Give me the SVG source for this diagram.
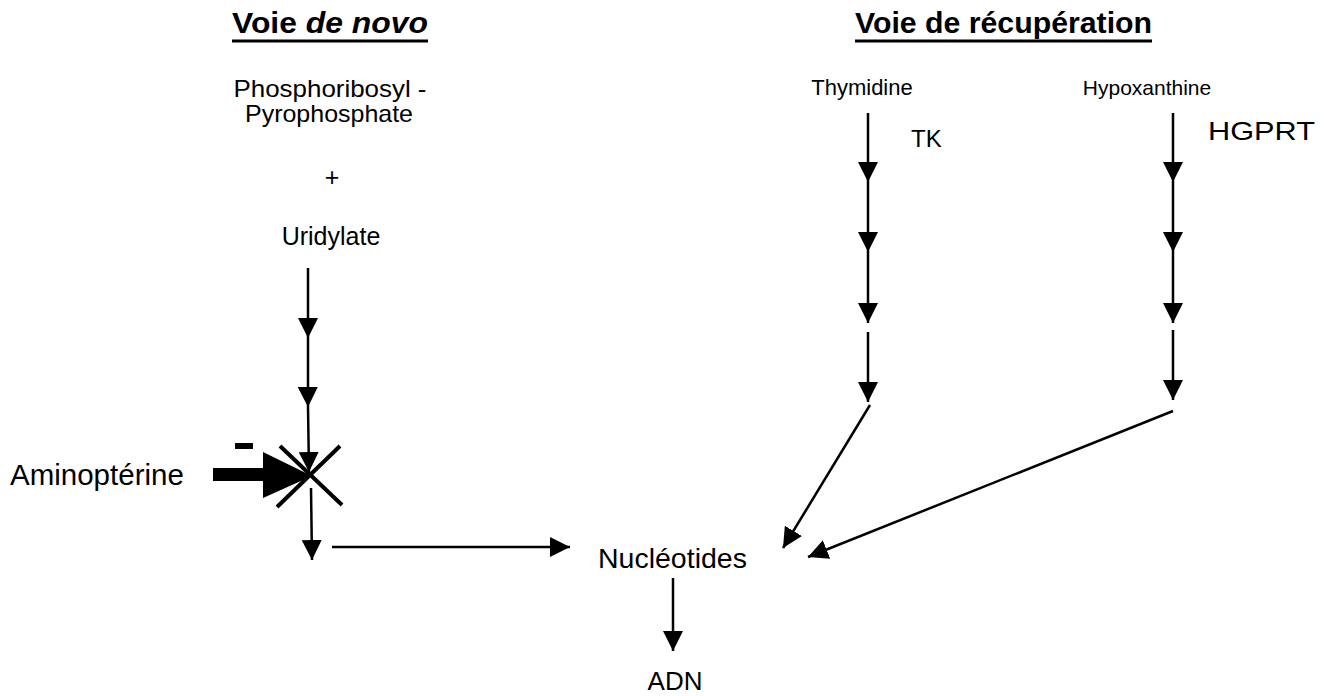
<svg xmlns="http://www.w3.org/2000/svg" width="1328" height="696" viewBox="0 0 1328 696">
<style>
text{font-family:"Liberation Sans",Arial,sans-serif;fill:#000}
.t{font-size:30px;font-weight:bold}
.n{font-size:25px}
.c{stroke:#000;stroke-width:2.5;fill:none}
.ul{stroke:#000;stroke-width:3}
</style>
<defs>
<marker id="ah" viewBox="0 0 20 20" refX="20" refY="10" markerWidth="20" markerHeight="20" markerUnits="userSpaceOnUse" orient="auto">
<path d="M0,0 L20,10 L0,20 z" fill="#000"/>
</marker>
</defs>
<rect width="1328" height="696" fill="#fff"/>
<g id="title-denovo">
<text class="t" x="232" y="33" textLength="196" lengthAdjust="spacingAndGlyphs">Voie <tspan font-style="italic">de novo</tspan></text>
<line class="ul" x1="232" y1="41" x2="428" y2="41"/>
</g>
<g id="title-recup">
<text class="t" x="855" y="33" textLength="297" lengthAdjust="spacingAndGlyphs">Voie de récupération</text>
<line class="ul" x1="855" y1="41" x2="1152" y2="41"/>
</g>
<g id="prpp">
<text x="330" y="97" font-size="24" text-anchor="middle" textLength="193" lengthAdjust="spacingAndGlyphs">Phosphoribosyl -</text>
<text x="329" y="122" font-size="24" text-anchor="middle" textLength="168" lengthAdjust="spacingAndGlyphs">Pyrophosphate</text>
</g>
<g id="plus"><text class="n" x="332" y="186" text-anchor="middle">+</text></g>
<g id="uridylate"><text class="n" x="331" y="245" text-anchor="middle">Uridylate</text></g>
<g id="thymidine"><text x="862" y="95" font-size="22" text-anchor="middle">Thymidine</text></g>
<g id="hypoxanthine"><text x="1147" y="95" font-size="21" text-anchor="middle">Hypoxanthine</text></g>
<g id="tk"><text x="911" y="147" font-size="24">TK</text></g>
<g id="hgprt"><text x="1208" y="140" font-size="25" textLength="107" lengthAdjust="spacingAndGlyphs">HGPRT</text></g>
<g id="aminopterine">
<text x="10" y="485" font-size="29.5">Aminoptérine</text>
<rect x="235" y="443" width="18" height="6"/>
<rect x="213" y="468" width="54" height="13"/>
<polygon points="263,452 312,476 263,498"/>
</g>
<g id="nucleotides"><text x="598" y="568" font-size="28.5">Nucléotides</text></g>
<g id="adn"><text x="675" y="690" font-size="26" text-anchor="middle">ADN</text></g>
<g id="connectors">
<polyline class="c" points="308,268 308,338 308,407 309,472" marker-mid="url(#ah)" marker-end="url(#ah)"/>
<g id="block-x" stroke="#000" stroke-width="4">
<line x1="280" y1="446" x2="342" y2="505"/>
<line x1="340" y1="446" x2="277" y2="507"/>
</g>
<line class="c" x1="311" y1="488" x2="312" y2="560" marker-end="url(#ah)"/>
<line class="c" x1="332" y1="547" x2="570" y2="547" marker-end="url(#ah)"/>
<polyline class="c" points="868,113 868,182 868,252 868,323" marker-mid="url(#ah)" marker-end="url(#ah)"/>
<line class="c" x1="868" y1="332" x2="868" y2="402" marker-end="url(#ah)"/>
<polyline class="c" points="1173,113 1173,182 1173,252 1173,323" marker-mid="url(#ah)" marker-end="url(#ah)"/>
<line class="c" x1="1173" y1="330" x2="1173" y2="400" marker-end="url(#ah)"/>
<line class="c" x1="870" y1="405" x2="783" y2="548" marker-end="url(#ah)"/>
<line class="c" x1="1173" y1="411" x2="808" y2="557" marker-end="url(#ah)"/>
<line class="c" x1="673" y1="578" x2="673" y2="651" marker-end="url(#ah)"/>
</g>
</svg>
